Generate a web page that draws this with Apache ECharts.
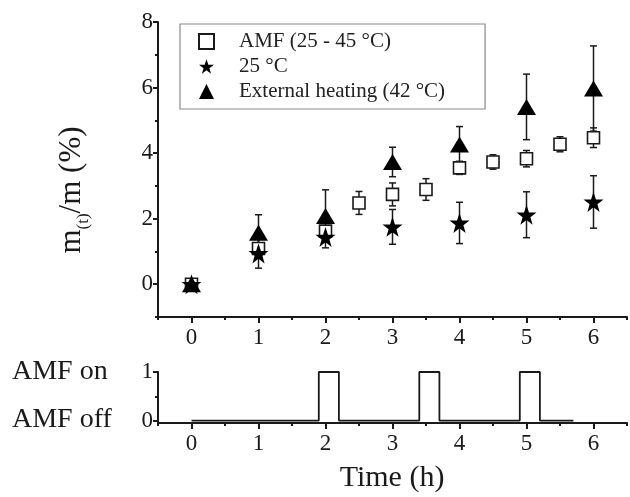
<!DOCTYPE html>
<html>
<head>
<meta charset="utf-8">
<script src="https://cdn.jsdelivr.net/npm/echarts@6/dist/echarts.min.js"></script>
<style>
  html, body { margin: 0; padding: 0; background: #fff; }
  #chart { width: 630px; height: 497px; }
</style>
</head>
<body>
<div id="chart"></div>
<script>
// time points (h)
const hours = [0, 1, 2, 3, 4, 5, 6];
const amfHours = [0, 1, 2, 2.5, 3, 3.5, 4, 4.5, 5, 5.5, 6];

// m(t)/m (%) with error bars
const amfMean = [0, 1.09, 1.62, 2.48, 2.74, 2.89, 3.55, 3.73, 3.83, 4.27, 4.47];
const amfErr = [0.1, 0.15, 0.15, 0.35, 0.35, 0.33, 0.2, 0.22, 0.25, 0.23, 0.3];
const roomMean = [0, 0.94, 1.44, 1.75, 1.87, 2.12, 2.51];
const roomErr = [0.1, 0.45, 0.33, 0.53, 0.63, 0.7, 0.8];
const heatMean = [0, 1.57, 2.08, 3.73, 4.26, 5.41, 5.97];
const heatErr = [0.1, 0.55, 0.8, 0.45, 0.55, 1.0, 1.3];

// AMF on/off schedule
const switchTimes = [0, 1.9, 2.2, 3.4, 3.7, 4.9, 5.2, 5.7];
const amfStates = [0, 1, 0, 1, 0, 1, 0, 0];

// ticks
const xLabels = [0, 1, 2, 3, 4, 5, 6];
const xMinor = [-0.5, 0.5, 1.5, 2.5, 3.5, 4.5, 5.5, 6.5];
const yLabels = [0, 2, 4, 6, 8];
const yMinor = [-1, 1, 3, 5, 7];
const stateLabels = [0, 1];
const stateMinor = [0.5];

const names = ['AMF (25 - 45 °C)', '25 °C', 'External heating (42 °C)'];

const FONT = '"Liberation Serif", "DejaVu Serif", serif';
const INK = '#1a1a1a';
const STAR = 'path://M50,0 L61.8,35.1 L98.1,35.1 L68.8,56.8 L79.4,91.6 L50,70 L20.6,91.6 L31.2,56.8 L1.9,35.1 L38.2,35.1 Z';

const pairs = (xs, ys) => xs.map((x, i) => [x, ys[i]]);
const errRows = (xs, ys, es) => xs.map((x, i) => [x, ys[i], es[i]]);

function errorBars(api) {
  const x = api.value(0), y = api.value(1), e = api.value(2);
  const top = api.coord([x, y + e]);
  const bot = api.coord([x, y - e]);
  const cap = 3.5;
  const style = { stroke: INK, lineWidth: 1.5 };
  return {
    type: 'group',
    children: [
      { type: 'line', shape: { x1: top[0], y1: top[1], x2: bot[0], y2: bot[1] }, style },
      { type: 'line', shape: { x1: top[0] - cap, y1: top[1], x2: top[0] + cap, y2: top[1] }, style },
      { type: 'line', shape: { x1: bot[0] - cap, y1: bot[1], x2: bot[0] + cap, y2: bot[1] }, style }
    ]
  };
}

function xAxisPair(grid) {
  const base = {
    type: 'value', gridIndex: grid, position: 'bottom', min: -0.5, max: 6.5, interval: 0.5,
    splitLine: { show: false }
  };
  return [
    Object.assign({}, base, {
      axisLine: { show: true, onZero: false, lineStyle: { color: INK, width: 2 } },
      axisTick: { show: true, inside: false, length: 6, customValues: xLabels, lineStyle: { color: INK, width: 2 } },
      axisLabel: { show: true, customValues: xLabels, margin: 9, color: INK, fontFamily: FONT, fontSize: 23 }
    }),
    Object.assign({}, base, {
      axisLine: { show: false, onZero: false },
      axisTick: { show: true, inside: false, length: 3, customValues: xMinor, lineStyle: { color: INK, width: 2 } },
      axisLabel: { show: false }
    })
  ];
}

function yAxisPair(grid, min, max, labels, minor) {
  const base = {
    type: 'value', gridIndex: grid, position: 'left', min: min, max: max,
    splitLine: { show: false }
  };
  return [
    Object.assign({}, base, {
      axisLine: { show: true, onZero: false, lineStyle: { color: INK, width: 2 } },
      axisTick: { show: true, length: 5, customValues: labels, lineStyle: { color: INK, width: 2 } },
      axisLabel: { customValues: labels, margin: 5, color: INK, fontFamily: FONT, fontSize: 23 }
    }),
    Object.assign({}, base, {
      axisLine: { show: false, onZero: false },
      axisTick: { show: true, length: 3, customValues: minor, lineStyle: { color: INK, width: 2 } },
      axisLabel: { show: false }
    })
  ];
}

const chart = echarts.init(document.getElementById('chart'), null, { renderer: 'canvas' });

chart.setOption({
  animation: false,
  backgroundColor: '#fff',
  textStyle: { fontFamily: FONT },
  grid: [
    { left: 158, top: 22, right: 3, height: 295 },
    { left: 158, top: 372, right: 3, height: 51 }
  ],
  legend: {
    orient: 'vertical',
    left: 180, top: 24,
    padding: [7, 40, 7, 18],
    itemGap: 4,
    itemWidth: 15, itemHeight: 15,
    borderColor: '#8a8a8a', borderWidth: 1.2,
    textStyle: { fontFamily: FONT, fontSize: 21, lineHeight: 21, color: '#222', padding: [0, 0, 0, 20] },
    data: names
  },
  xAxis: [].concat(xAxisPair(0), xAxisPair(1)),
  yAxis: [].concat(yAxisPair(0, -1, 8, yLabels, yMinor), yAxisPair(1, -0.05, 1, stateLabels, stateMinor)),
  graphic: [
    {
      type: 'text', x: 72, y: 190, rotation: Math.PI / 2,
      style: {
        text: '{m|m}{s|(t)}{m|/m (%)}', align: 'center', verticalAlign: 'middle',
        rich: {
          m: { fontFamily: FONT, fontSize: 31, fill: INK, lineHeight: 40 },
          s: { fontFamily: FONT, fontSize: 17, fill: INK, lineHeight: 40, verticalAlign: 'bottom' }
        }
      }
    },
    { type: 'text', x: 12, y: 372, style: { text: 'AMF on', font: '28px ' + FONT, fill: INK, verticalAlign: 'middle' } },
    { type: 'text', x: 12, y: 420, style: { text: 'AMF off', font: '28px ' + FONT, fill: INK, verticalAlign: 'middle' } },
    { type: 'text', x: 392, y: 478, style: { text: 'Time (h)', font: '30px ' + FONT, fill: INK, align: 'center', verticalAlign: 'middle' } }
  ],
  series: [
    { type: 'custom', xAxisIndex: 0, yAxisIndex: 0, renderItem: (p, api) => errorBars(api), data: errRows(amfHours, amfMean, amfErr), z: 1, silent: true },
    { type: 'custom', xAxisIndex: 0, yAxisIndex: 0, renderItem: (p, api) => errorBars(api), data: errRows(hours, roomMean, roomErr), z: 1, silent: true },
    { type: 'custom', xAxisIndex: 0, yAxisIndex: 0, renderItem: (p, api) => errorBars(api), data: errRows(hours, heatMean, heatErr), z: 1, silent: true },
    {
      name: names[0], type: 'scatter', xAxisIndex: 0, yAxisIndex: 0, z: 3,
      symbol: 'rect', symbolSize: 12,
      itemStyle: { color: '#fff', borderColor: INK, borderWidth: 1.6, opacity: 1 },
      data: pairs(amfHours, amfMean)
    },
    {
      name: names[1], type: 'scatter', xAxisIndex: 0, yAxisIndex: 0, z: 4,
      symbol: STAR, symbolSize: 20,
      itemStyle: { color: '#000', opacity: 1 },
      data: pairs(hours, roomMean)
    },
    {
      name: names[2], type: 'scatter', xAxisIndex: 0, yAxisIndex: 0, z: 5,
      symbol: 'triangle', symbolSize: [19, 16],
      itemStyle: { color: '#000', opacity: 1 },
      data: pairs(hours, heatMean)
    },
    {
      type: 'line', xAxisIndex: 2, yAxisIndex: 2, step: 'end',
      symbol: 'none', silent: true,
      lineStyle: { color: INK, width: 1.8 },
      data: pairs(switchTimes, amfStates)
    }
  ]
});
</script>
</body>
</html>
